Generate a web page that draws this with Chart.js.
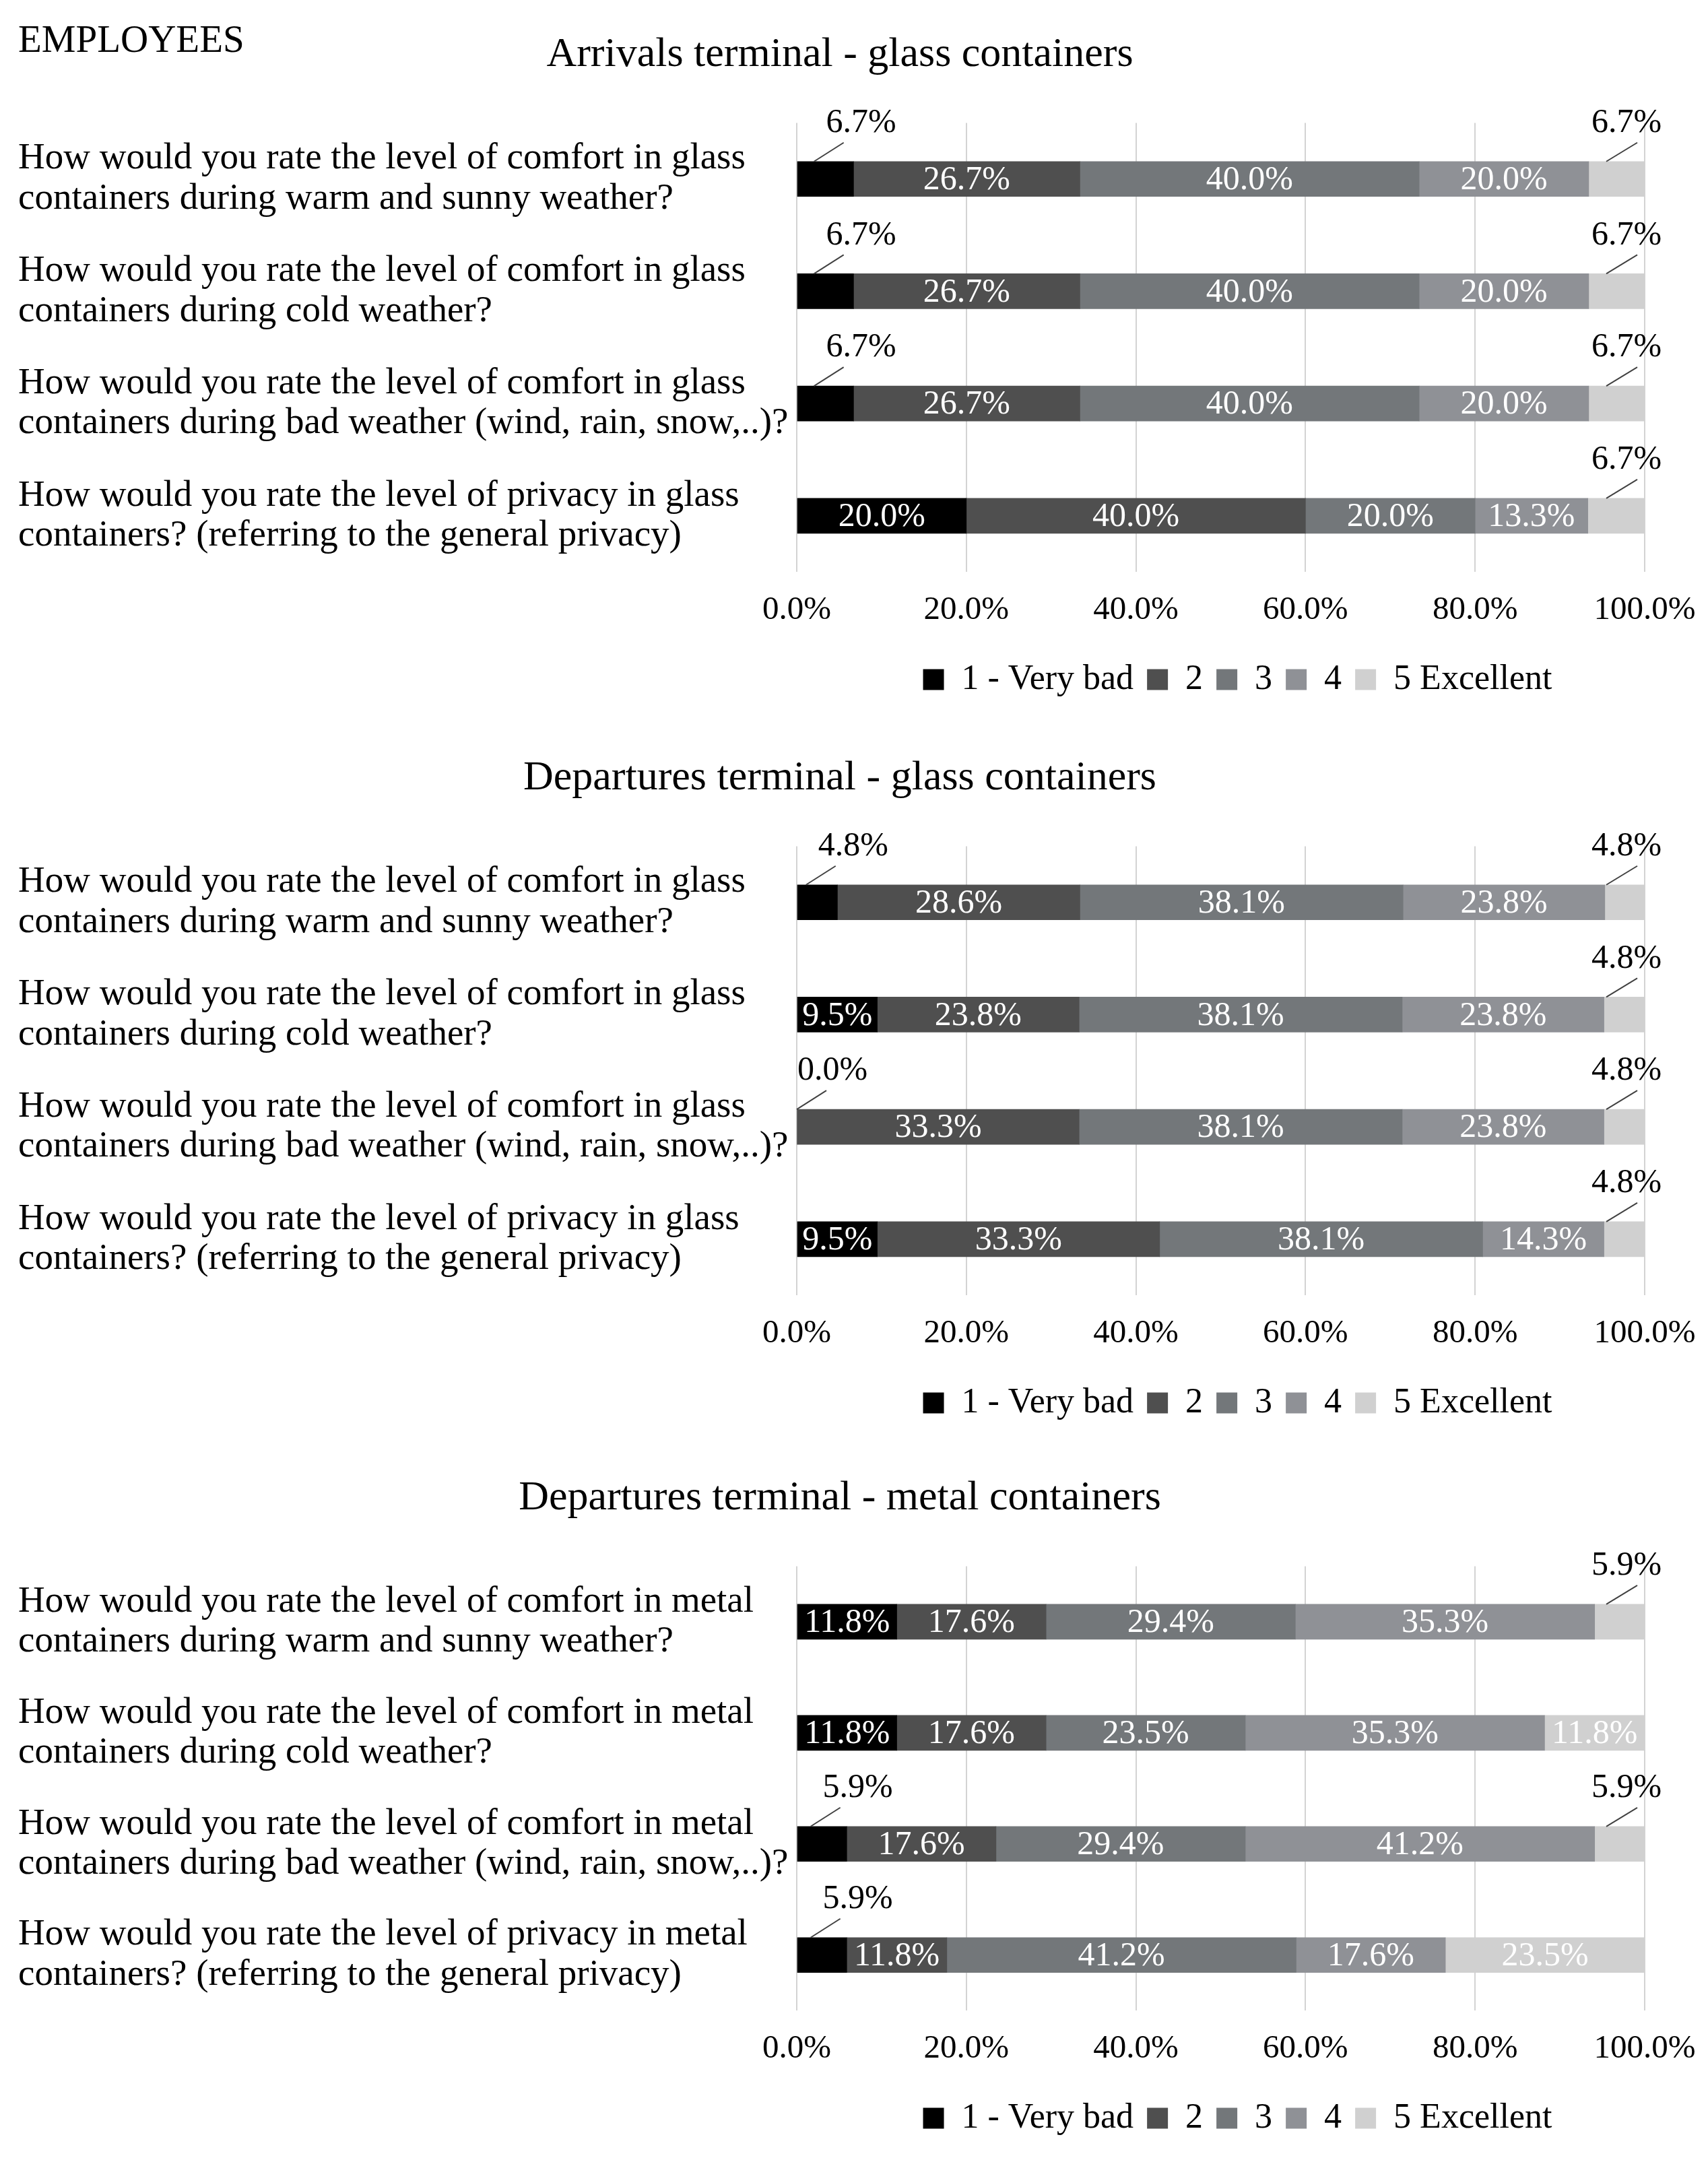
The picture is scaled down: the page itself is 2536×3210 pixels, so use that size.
<!DOCTYPE html>
<html>
<head>
<meta charset="utf-8">
<script src="https://cdn.jsdelivr.net/npm/chart.js@4/dist/chart.umd.min.js"></script>
<style>
  body { margin: 0; background: #fff; }
  #page { position: relative; width: 2536px; height: 3210px; background: #fff; }
  #page canvas { position: absolute; left: 0; }
  #heading { position: absolute; left: 27px; top: 29px; font: 57px 'Liberation Serif', serif; line-height: 1; color: #000; }
</style>
</head>
<body>
<div id="page">
  <div id="heading">EMPLOYEES</div>
  <canvas id="chart1" width="2536" height="1074" style="top:0px"></canvas>
  <canvas id="chart2" width="2536" height="1074" style="top:1074px"></canvas>
  <canvas id="chart3" width="2536" height="1067" style="top:2143px"></canvas>
</div>
<script>
// Rating levels and x-axis tick labels
const ratingLabels = ['1 - Very bad', '2', '3', '4', '5 Excellent'];
const tickLabels = ['0.0%', '20.0%', '40.0%', '60.0%', '80.0%', '100.0%'];

// Questions (two lines each)
const glassQuestions = [
    ['How would you rate the level of comfort in glass', 'containers during warm and sunny weather?'],
    ['How would you rate the level of comfort in glass', 'containers during cold weather?'],
    ['How would you rate the level of comfort in glass', 'containers during bad weather (wind, rain, snow,..)?'],
    ['How would you rate the level of privacy in glass', 'containers? (referring to the general privacy)']
];
const metalQuestions = [
    ['How would you rate the level of comfort in metal', 'containers during warm and sunny weather?'],
    ['How would you rate the level of comfort in metal', 'containers during cold weather?'],
    ['How would you rate the level of comfort in metal', 'containers during bad weather (wind, rain, snow,..)?'],
    ['How would you rate the level of privacy in metal', 'containers? (referring to the general privacy)']
];

// Shares in % - one row per rating level, one column per question
const arrivalsGlass = [
    [6.7, 6.7, 6.7, 20.0],
    [26.7, 26.7, 26.7, 40.0],
    [40.0, 40.0, 40.0, 20.0],
    [20.0, 20.0, 20.0, 13.3],
    [6.7, 6.7, 6.7, 6.7]
];
const departuresGlass = [
    [4.8, 9.5, 0.0, 9.5],
    [28.6, 23.8, 33.3, 33.3],
    [38.1, 38.1, 38.1, 38.1],
    [23.8, 23.8, 23.8, 14.3],
    [4.8, 4.8, 4.8, 4.8]
];
const departuresMetal = [
    [11.8, 11.8, 5.9, 5.9],
    [17.6, 17.6, 17.6, 11.8],
    [29.4, 23.5, 29.4, 41.2],
    [35.3, 35.3, 41.2, 17.6],
    [5.9, 11.8, 5.9, 23.5]
];

const ratingColors = ['#000000', '#4f4f4f', '#73777a', '#8f9196', '#d0d0d0'];
const FONT = "'Liberation Serif', serif";

Chart.defaults.font.family = FONT;
Chart.defaults.color = '#000';

// Value labels: white inside the bar, or above it with a small leader line
const barLabels = {
    id: 'barLabels',
    afterLayout(chart) {
        // nudge the legend a bit to the right, like the original
        if (chart.legend) {
            chart.legend.left += 25;
            chart.legend.right += 25;
        }
    },
    afterDatasetsDraw(chart) {
        const ctx = chart.ctx;
        const last = chart.data.datasets.length - 1;
        const areaRight = chart.chartArea.right;
        ctx.save();
        ctx.font = '50px ' + FONT;
        ctx.textAlign = 'center';
        ctx.textBaseline = 'middle';
        chart.data.datasets.forEach((ds, i) => {
            chart.getDatasetMeta(i).data.forEach((bar, j) => {
                const p = bar.getProps(['x', 'y', 'base', 'height'], true);
                const v = ds.data[j];
                const txt = v.toFixed(1) + '%';
                const left = Math.min(p.x, p.base);
                const right = Math.min(Math.max(p.x, p.base), areaRight);
                const top = p.y - p.height / 2;
                if (v >= 9) {
                    ctx.fillStyle = '#fff';
                    ctx.fillText(txt, (left + right) / 2, p.y + 2);
                    return;
                }
                let x0, x1, tx;
                if (i === 0) {
                    const cx = (left + right) / 2;
                    x0 = Math.max(left, cx - 17);
                    x1 = x0 + 44;
                    tx = cx + 53;
                } else if (i === last) {
                    x0 = right - 57;
                    x1 = right - 11;
                    tx = right - 27;
                } else {
                    return;
                }
                ctx.strokeStyle = '#404040';
                ctx.lineWidth = 2;
                ctx.beginPath();
                ctx.moveTo(x0, top);
                ctx.lineTo(x1, top - 28);
                ctx.stroke();
                ctx.fillStyle = '#000';
                ctx.fillText(txt, tx, top - 57);
            });
        });
        ctx.restore();
    }
};

function makeChart(id, title, questions, values) {
    const ctx = document.getElementById(id).getContext('2d');
    return new Chart(ctx, {
        type: 'bar',
        data: {
            labels: questions,
            datasets: ratingLabels.map((label, i) => ({
                label: label,
                data: values[i],
                backgroundColor: ratingColors[i],
                borderWidth: 0,
                barThickness: 52
            }))
        },
        options: {
            indexAxis: 'y',
            responsive: false,
            animation: false,
            layout: { padding: { left: 27, right: 69, top: 0, bottom: 29 } },
            plugins: {
                title: {
                    display: true,
                    text: title,
                    font: { size: 62, weight: 'normal' },
                    color: '#000',
                    padding: { top: 45, bottom: 63 }
                },
                legend: {
                    position: 'bottom',
                    fullSize: false,
                    labels: {
                        boxWidth: 31,
                        boxHeight: 31,
                        padding: 20,
                        font: { size: 52 },
                        color: '#000'
                    }
                },
                tooltip: { enabled: false }
            },
            scales: {
                x: {
                    stacked: true,
                    min: 0,
                    max: 100,
                    border: { display: false },
                    grid: { color: '#d3d3d3', lineWidth: 2, drawTicks: false },
                    ticks: {
                        stepSize: 20,
                        padding: 28,
                        font: { size: 49 },
                        color: '#000',
                        callback: (v, i) => tickLabels[i]
                    },
                    afterFit: (scale) => {
                        scale.height -= 1;
                        scale.paddingLeft = 40;
                        scale.paddingRight = 94;
                    }
                },
                y: {
                    stacked: true,
                    border: { display: false },
                    grid: { display: false },
                    ticks: {
                        crossAlign: 'far',
                        font: { size: 55, lineHeight: 1.08 },
                        color: '#000'
                    },
                    afterFit: (scale) => { scale.width = 1156; }
                }
            }
        },
        plugins: [barLabels]
    });
}

document.addEventListener('DOMContentLoaded', () => {
    makeChart('chart1', 'Arrivals terminal - glass containers', glassQuestions, arrivalsGlass);
    makeChart('chart2', 'Departures terminal - glass containers', glassQuestions, departuresGlass);
    makeChart('chart3', 'Departures terminal - metal containers', metalQuestions, departuresMetal);
});
</script>
</body>
</html>
